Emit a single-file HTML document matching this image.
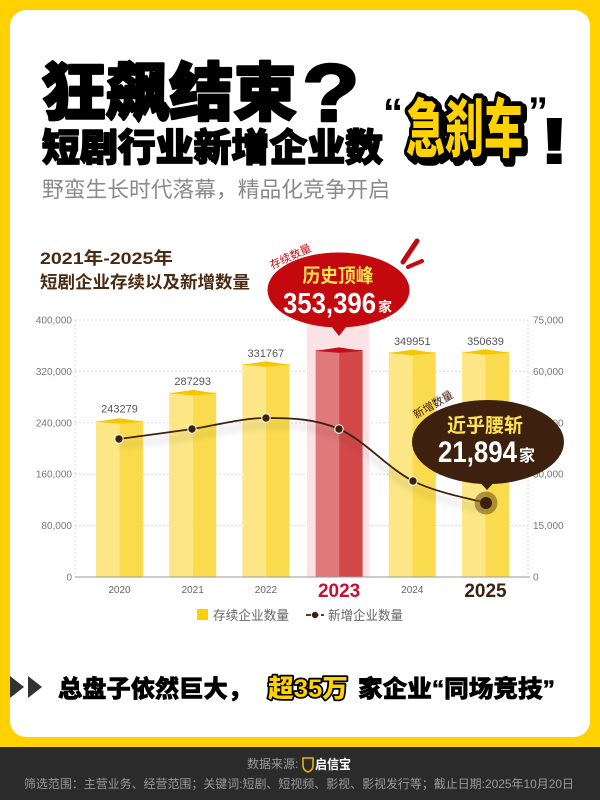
<!DOCTYPE html>
<html><head><meta charset="utf-8"><style>
html,body{margin:0;padding:0;}
body{width:600px;height:800px;overflow:hidden;background:#FFD100;font-family:"Liberation Sans","Noto Sans CJK SC",sans-serif;}
svg{position:absolute;left:0;top:0;}
</style></head><body>
<svg width="600" height="800" viewBox="0 0 600 800" xmlns="http://www.w3.org/2000/svg" style="font-family:'Liberation Sans','Noto Sans CJK SC',sans-serif">
<defs>
<filter id="sh" x="-10%" y="-50%" width="120%" height="250%">
<feGaussianBlur in="SourceAlpha" stdDeviation="4"/>
<feOffset dx="0" dy="7" result="b"/>
<feComponentTransfer><feFuncA type="linear" slope="0.3"/></feComponentTransfer>
<feMerge><feMergeNode/><feMergeNode in="SourceGraphic"/></feMerge>
</filter>
</defs>
<rect x="0" y="0" width="600" height="800" fill="#FFD100"/>
<rect x="10" y="10" width="580" height="727" rx="16" fill="#fff"/>
<rect x="0" y="747" width="600" height="53" fill="#2B2B2B"/>

<!-- Title -->
<text x="42" y="115" font-size="63" font-weight="900" fill="#000" stroke="#000" stroke-width="2.5" stroke-linejoin="round" textLength="255" lengthAdjust="spacingAndGlyphs">狂飙结束</text>
<g transform="translate(302,121) scale(1.15,1)">
<text x="0" y="0" font-size="82" font-weight="700" fill="#000" stroke="#000" stroke-width="2.5" stroke-linejoin="round">?</text>
</g>
<text x="42" y="161" font-size="38" font-weight="900" fill="#000" stroke="#000" stroke-width="1.6" stroke-linejoin="round" textLength="341" lengthAdjust="spacingAndGlyphs">短剧行业新增企业数</text>
<text x="383" y="126" font-size="40" font-weight="700" fill="#000">“</text>
<text x="528" y="125" font-size="40" font-weight="700" fill="#000">”</text>
<g transform="translate(409,155) scale(1,1.6)">
<text x="0" y="0" font-size="40" font-weight="900" fill="#000" stroke="#000" stroke-width="7" stroke-linejoin="round" textLength="117" lengthAdjust="spacingAndGlyphs">急刹车</text>
</g>
<g transform="translate(406,152) scale(1,1.6)">
<text x="0" y="0" font-size="40" font-weight="900" fill="#FFD200" stroke="#000" stroke-width="6" stroke-linejoin="round" paint-order="stroke" textLength="117" lengthAdjust="spacingAndGlyphs">急刹车</text>
</g>
<g transform="translate(540,163) scale(1.35,1)">
<text x="0" y="0" font-size="64" font-weight="700" fill="#000" stroke="#000" stroke-width="2">!</text>
</g>
<text x="42" y="197" font-size="21.5" fill="#8a8a8a" textLength="348" lengthAdjust="spacingAndGlyphs">野蛮生长时代落幕，精品化竞争开启</text>

<!-- Chart title -->
<text x="40" y="264" font-size="17" font-weight="700" fill="#4A2A12" textLength="133" lengthAdjust="spacingAndGlyphs">2021年-2025年</text>
<text x="40" y="288" font-size="17" font-weight="700" fill="#4A2A12" textLength="210" lengthAdjust="spacingAndGlyphs">短剧企业存续以及新增数量</text>

<!-- grid -->
<g stroke="#d9d9d9" stroke-width="1" stroke-dasharray="2 2">
<line x1="75" y1="320" x2="528" y2="320"/>
<line x1="75" y1="371.4" x2="528" y2="371.4"/>
<line x1="75" y1="422.8" x2="528" y2="422.8"/>
<line x1="75" y1="474.2" x2="528" y2="474.2"/>
<line x1="75" y1="525.6" x2="528" y2="525.6"/>
<line x1="75" y1="320" x2="75" y2="577"/>
<line x1="528" y1="320" x2="528" y2="577"/>
</g>
<g font-size="10" fill="#777" text-anchor="end">
<text x="72" y="323.5">400,000</text>
<text x="72" y="375">320,000</text>
<text x="72" y="426.3">240,000</text>
<text x="72" y="477.7">160,000</text>
<text x="72" y="529">80,000</text>
<text x="72" y="580.5">0</text>
</g>
<g font-size="10" fill="#777">
<text x="533" y="323.5">75,000</text>
<text x="533" y="375">60,000</text>
<text x="533" y="426.3">45,000</text>
<text x="533" y="477.7">30,000</text>
<text x="533" y="529">15,000</text>
<text x="533" y="580.5">0</text>
</g>

<!-- pink highlight band -->
<rect x="307" y="318" width="62" height="259" fill="#FBE3E5"/>

<!-- bars -->
<g>
<rect x="96" y="420.7" width="23.5" height="156.3" fill="#FCE685"/>
<rect x="119.5" y="420.7" width="23.5" height="156.3" fill="#FADB4E"/>
<polygon points="96,421.7 119.5,418.2 143,421.7 119.5,423.7" fill="#F5C700"/>

<rect x="169.2" y="392.4" width="23.5" height="184.6" fill="#FCE685"/>
<rect x="192.7" y="392.4" width="23.5" height="184.6" fill="#FADB4E"/>
<polygon points="169.2,393.4 192.7,389.9 216.2,393.4 192.7,395.4" fill="#F5C700"/>

<rect x="242.4" y="363.8" width="23.5" height="213.2" fill="#FCE685"/>
<rect x="265.9" y="363.8" width="23.5" height="213.2" fill="#FADB4E"/>
<polygon points="242.4,364.8 265.9,361.3 289.4,364.8 265.9,366.8" fill="#F5C700"/>

<rect x="315.6" y="349.9" width="23.5" height="227.1" fill="#E07A7A"/>
<rect x="339.1" y="349.9" width="23.5" height="227.1" fill="#D34949"/>
<polygon points="315.6,350.9 339.1,347.4 362.6,350.9 339.1,352.9" fill="#C10E1C"/>

<rect x="388.8" y="352.1" width="23.5" height="224.9" fill="#FCE685"/>
<rect x="412.3" y="352.1" width="23.5" height="224.9" fill="#FADB4E"/>
<polygon points="388.8,353.1 412.3,349.6 435.8,353.1 412.3,355.1" fill="#F5C700"/>

<rect x="462" y="351.7" width="23.5" height="225.3" fill="#FCE685"/>
<rect x="485.5" y="351.7" width="23.5" height="225.3" fill="#FADB4E"/>
<polygon points="462,352.7 485.5,349.2 509,352.7 485.5,354.7" fill="#F5C700"/>
</g>

<!-- value labels -->
<g font-size="11" fill="#555" text-anchor="middle">
<text x="119.5" y="412.5">243279</text>
<text x="192.7" y="385">287293</text>
<text x="265.9" y="357">331767</text>
<text x="412.3" y="345">349951</text>
<text x="485.5" y="345">350639</text>
</g>

<line x1="75" y1="577" x2="530" y2="577" stroke="#9a9a9a" stroke-width="1"/>

<!-- x labels -->
<g font-size="10" fill="#666" text-anchor="middle">
<text x="119.5" y="593">2020</text>
<text x="192.7" y="593">2021</text>
<text x="265.9" y="593">2022</text>
<text x="412.3" y="593">2024</text>
</g>
<text x="339.1" y="597" font-size="19" font-weight="700" fill="#C8102E" text-anchor="middle">2023</text>
<text x="485.5" y="597" font-size="19" font-weight="700" fill="#3D200E" text-anchor="middle">2025</text>

<!-- line -->
<path d="M119,439 C131.2,437.3 167.5,432.5 192,429 C216.5,425.5 241.5,418 266,418 C290.5,418 314.5,418.5 339,429 C363.5,439.5 388.5,468.7 413,481 C437.5,493.3 473.8,499.3 486,503" fill="none" stroke="#3D200E" stroke-width="1.8" filter="url(#sh)"/>
<g fill="#3D200E" stroke="#fff" stroke-width="1">
<circle cx="119" cy="439" r="4.2"/>
<circle cx="192" cy="429" r="4.2"/>
<circle cx="266" cy="418" r="4.2"/>
<circle cx="339" cy="429" r="4.2"/>
<circle cx="413" cy="481" r="4.2"/>
</g>
<circle cx="486" cy="503" r="11.5" fill="#7A5A18" opacity="0.6"/>
<circle cx="486" cy="503" r="6" fill="#3D200E"/>

<!-- bubble 1 -->
<ellipse cx="338.5" cy="290" rx="71" ry="37.5" fill="#C4090E"/>
<polygon points="328,322 339,336 350,322" fill="#C4090E"/>
<text x="338" y="282" font-size="19" font-weight="700" fill="#FFE24D" text-anchor="middle" textLength="71" lengthAdjust="spacingAndGlyphs">历史顶峰</text>
<text x="283" y="313" font-size="29" font-weight="700" fill="#fff" textLength="93" lengthAdjust="spacingAndGlyphs">353,396</text>
<text x="378" y="312" font-size="14" font-weight="700" fill="#fff">家</text>
<text transform="translate(292,260) rotate(-25)" font-size="11" fill="#C4090E" text-anchor="middle">存续数量</text>
<g stroke="#C4090E" stroke-linecap="round" fill="none">
<line x1="403" y1="262" x2="417" y2="241" stroke-width="5"/>
<line x1="408" y1="267" x2="422" y2="261" stroke-width="4"/>
</g>

<!-- bubble 2 -->
<ellipse cx="488" cy="442" rx="76" ry="42" fill="#3D200E"/>
<polygon points="476,478 487,490 498,478" fill="#3D200E"/>
<text x="485" y="432" font-size="19.5" font-weight="700" fill="#FFE24D" text-anchor="middle" textLength="76" lengthAdjust="spacingAndGlyphs">近乎腰斩</text>
<text x="438" y="462" font-size="30" font-weight="700" fill="#fff" textLength="79" lengthAdjust="spacingAndGlyphs">21,894</text>
<text x="519" y="461" font-size="16" font-weight="700" fill="#fff">家</text>
<text transform="translate(435,408) rotate(-30)" font-size="11" fill="#3D200E" text-anchor="middle">新增数量</text>

<!-- legend -->
<rect x="197" y="609" width="11" height="11" fill="#FFD000"/>
<text x="213" y="620" font-size="13" fill="#666" textLength="76" lengthAdjust="spacingAndGlyphs">存续企业数量</text>
<line x1="306" y1="615" x2="324" y2="615" stroke="#3D200E" stroke-width="1.8" stroke-dasharray="5 2.5"/>
<circle cx="315" cy="615" r="3.2" fill="#3D200E"/>
<text x="328" y="620" font-size="13" fill="#666" textLength="75" lengthAdjust="spacingAndGlyphs">新增企业数量</text>

<!-- bottom statement -->
<polygon points="10,676 24,687 10,698" fill="#333"/>
<polygon points="28,676 42,687 28,698" fill="#333"/>
<text x="58" y="697" font-size="24" font-weight="900" fill="#000" stroke="#000" stroke-width="0.6" textLength="194" lengthAdjust="spacingAndGlyphs">总盘子依然巨大，</text>
<text x="268" y="697" font-size="25" font-weight="900" fill="#FFD200" stroke="#000" stroke-width="3.5" stroke-linejoin="round" paint-order="stroke" textLength="80" lengthAdjust="spacingAndGlyphs">超35万</text>
<text x="358" y="697" font-size="24" font-weight="900" fill="#000" stroke="#000" stroke-width="0.6" textLength="197" lengthAdjust="spacingAndGlyphs">家企业“同场竞技”</text>

<!-- footer -->
<text x="247" y="768" font-size="12" fill="#9a9a9a">数据来源:</text>
<path d="M303,758 L313,758 L313,766 Q313,770 308,772 Q303,770 303,766 Z" fill="none" stroke="#E8B400" stroke-width="1.6"/>
<text x="315" y="769" font-size="13" font-weight="700" fill="#fff" textLength="36" lengthAdjust="spacingAndGlyphs">启信宝</text>
<text x="24" y="788" font-size="12" fill="#9a9a9a" textLength="550" lengthAdjust="spacingAndGlyphs">筛选范围：主营业务、经营范围；关键词:短剧、短视频、影视、影视发行等；截止日期:2025年10月20日</text>
</svg>
</body></html>
